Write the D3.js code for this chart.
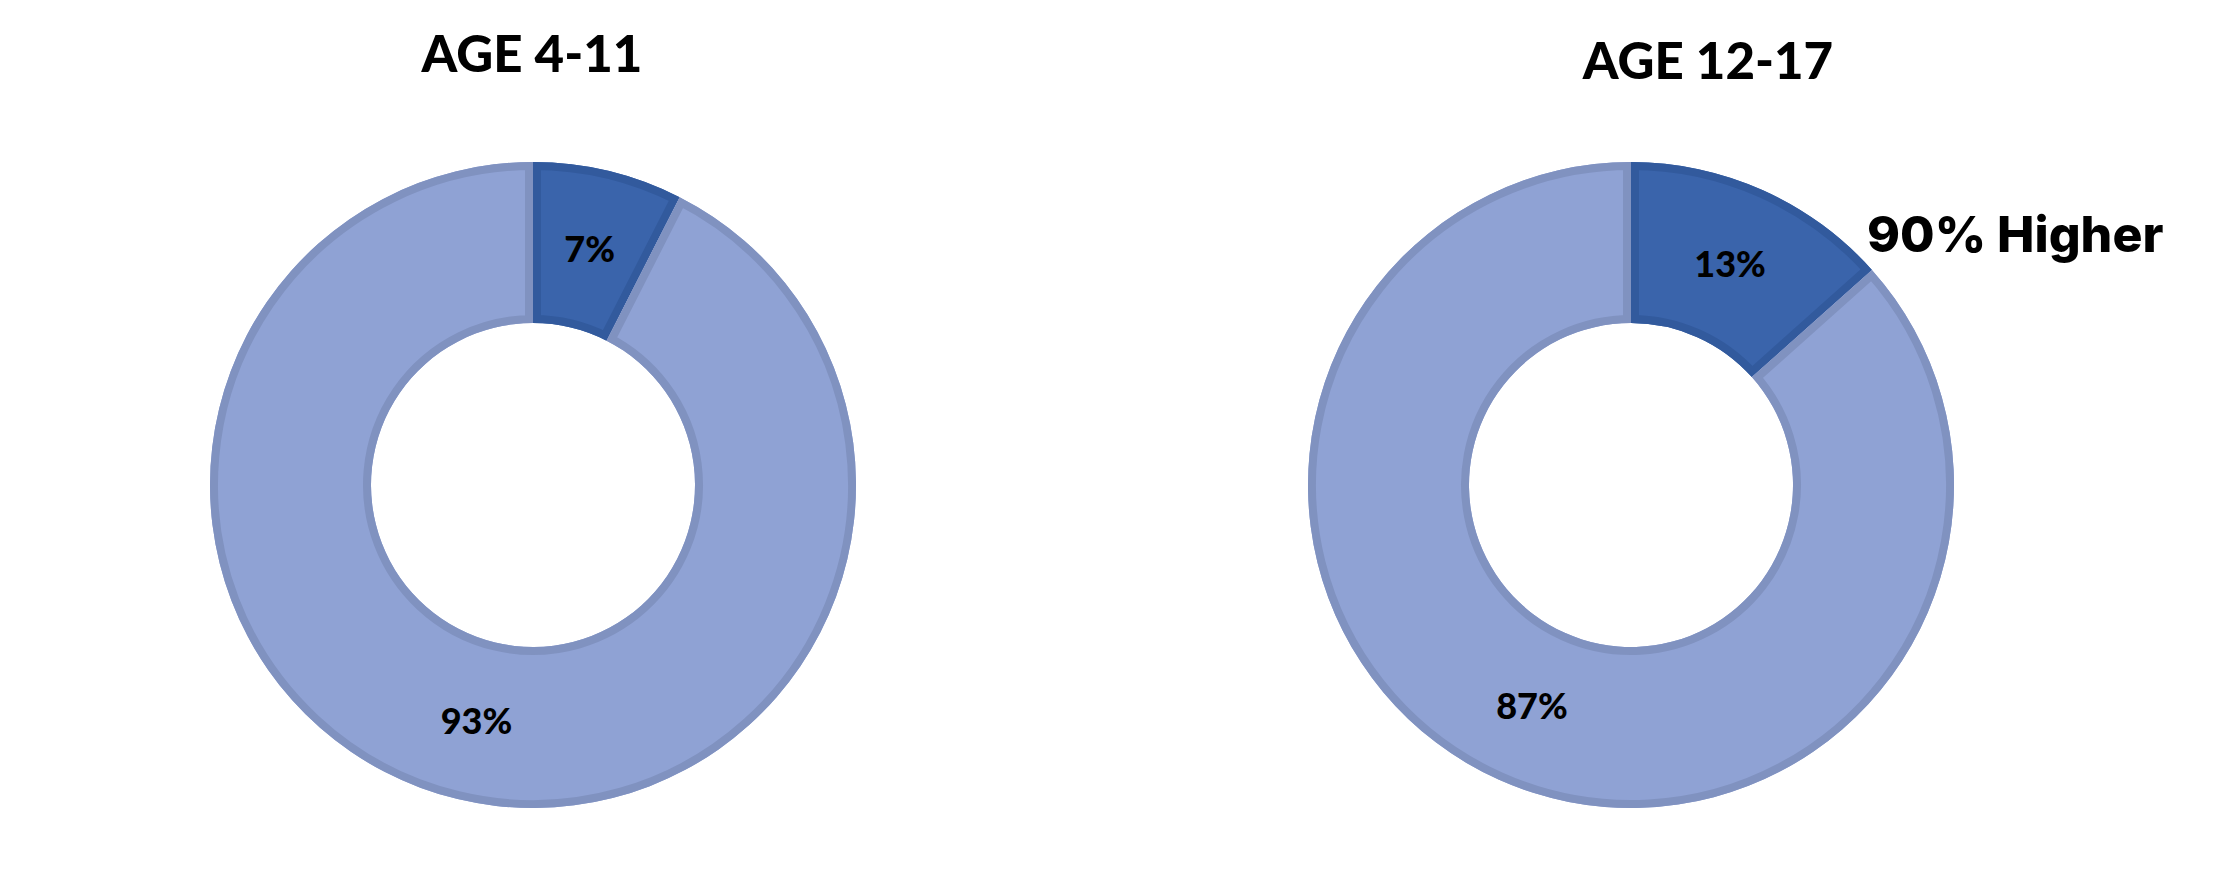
<!DOCTYPE html>
<html><head><meta charset="utf-8">
<script src="https://cdn.jsdelivr.net/npm/d3@7"></script>
<style>html,body{margin:0;padding:0;background:#fff;}svg{display:block;}</style>
</head><body>
<svg id="chart" width="2226" height="882"></svg>
<script>
// ---- data ----
const groups = ["AGE 4-11", "AGE 12-17"];
const categories = ["Selected", "Other"];
const values4to11 = [7.5, 92.5];
const values12to17 = [13.4, 86.6];
const labels4to11 = ["7%", "93%"];
const labels12to17 = ["13%", "87%"];
const annotation = "90% Higher";

// ---- layout / style ----
const svg = d3.select("#chart");
const outerR = 323, innerR = 162, borderW = 8;
const centers = [{x: 533, y: 485}, {x: 1631, y: 485}];
const titlePos = [{x: 532, y: 72, size: 51}, {x: 1708, y: 79, size: 51}];
const fills = ["#3A64AB", "#8FA2D4"];
const strokes = ["#325A9D", "#8092C0"];
const labelFont = "Lato, 'Open Sans', sans-serif";

const pie = d3.pie().sort(null).value(d => d);
const arc = d3.arc().innerRadius(innerR).outerRadius(outerR);
const midR = (innerR + outerR) / 2;
const labelArc = d3.arc().innerRadius(midR).outerRadius(midR);

const defs = svg.append("defs");
const datasets = [values4to11, values12to17];
const labelSets = [labels4to11, labels12to17];

datasets.forEach((vals, gi) => {
  const c = centers[gi];
  const g = svg.append("g").attr("transform", `translate(${c.x},${c.y})`);
  const arcs = pie(vals);
  arcs.forEach((a, i) => {
    const id = `clip-${gi}-${i}`;
    defs.append("clipPath").attr("id", id).append("path").attr("d", arc(a));
    g.append("path").attr("d", arc(a)).attr("fill", fills[i]);
    g.append("path").attr("d", arc(a))
      .attr("fill", "none")
      .attr("stroke", strokes[i])
      .attr("stroke-width", borderW * 2)
      .attr("stroke-linejoin", "miter")
      .attr("clip-path", `url(#${id})`);
  });
  arcs.forEach((a, i) => {
    const [lx, ly] = labelArc.centroid(a);
    g.append("text")
      .attr("x", lx).attr("y", ly)
      .attr("dy", "0.36em")
      .attr("text-anchor", "middle")
      .attr("font-family", labelFont)
      .attr("font-weight", 900)
      .attr("font-size", 36)
      .attr("fill", "#000")
      .text(labelSets[gi][i]);
  });
  svg.append("text")
    .attr("x", titlePos[gi].x).attr("y", titlePos[gi].y)
    .attr("text-anchor", "middle")
    .attr("font-family", labelFont)
    .attr("font-weight", 900)
    .attr("font-size", titlePos[gi].size)
    .attr("fill", "#000")
    .text(groups[gi]);
});

svg.append("text")
  .attr("x", 1867).attr("y", 252)
  .attr("font-family", "Inter, sans-serif")
  .attr("font-weight", 800)
  .attr("font-size", 50)
  .attr("fill", "#000")
  .text(annotation);
</script>
</body></html>
